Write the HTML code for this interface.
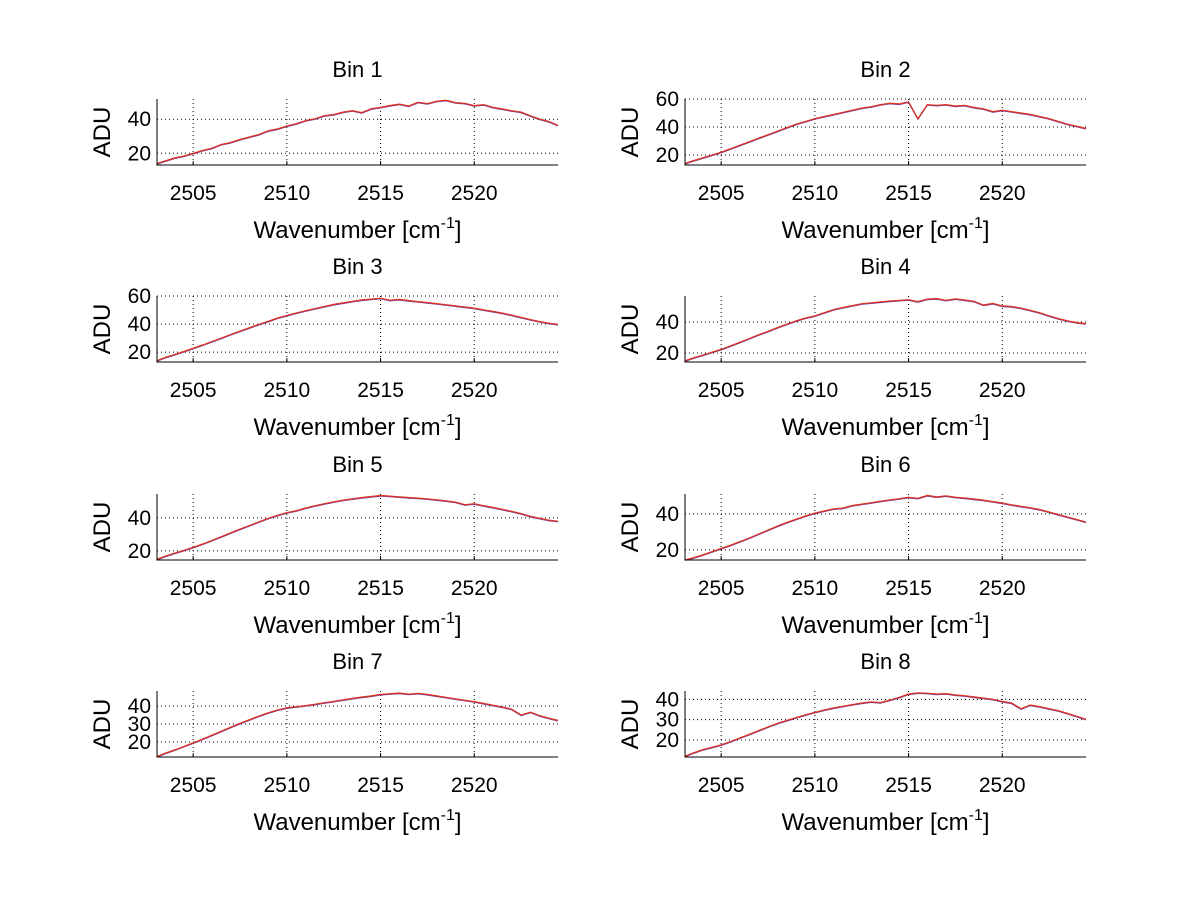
<!DOCTYPE html>
<html><head><meta charset="utf-8"><style>
body{margin:0;background:#fff;}
svg text{font-family:"Liberation Sans",sans-serif;fill:#000;}
</style></head><body>
<svg id="fig" width="1200" height="901" viewBox="0 0 1200 901" xmlns="http://www.w3.org/2000/svg"></svg>
<script>
const X0 = 2503.0, DX = 0.5;
const xlim = [2503.07, 2524.47];
const xTicks = [2505, 2510, 2515, 2520];
const binTitles = ["Bin 1","Bin 2","Bin 3","Bin 4","Bin 5","Bin 6","Bin 7","Bin 8"];
const ylims = [[13.1,51.9],[12.9,60],[13,60],[14.2,56.8],[14.5,54.5],[14.4,51],[11.7,48.3],[11.6,44.1]];
const yTicks = [[20,40],[20,40,60],[20,40,60],[20,40],[20,40],[20,40],[20,30,40],[20,30,40]];
const bin1 = [14,15.5,17.2,18.4,20,21.6,23,25.2,26.4,28.1,29.6,31,33.2,34.3,36.1,37.4,39.2,40.3,42.1,42.8,44.2,45.1,43.9,46.2,47,48.1,48.9,47.8,50,49.2,50.6,51.2,49.8,49.4,48,48.6,47,46.1,45,44.2,42,40.1,38.6,36.4,34.8];
const bin2 = [14,16,18,20,22,24.5,27,29.5,32,34.5,37,39.5,42,44,46,47.5,49,50.5,52,53.5,54.5,56,57,56.5,58,46,56,55.5,56,55,55.5,54,53,51,52,51,50,49,47.5,46,44,42,40.5,39,38];
const bin3 = [14,16.2,18.3,20.5,22.8,25.1,27.6,30,32.6,35,37.4,39.8,42,44.3,46.2,48,49.5,51,52.6,54,55.1,56.2,57.2,57.8,58.4,57,57.6,56.8,56,55.4,54.6,53.8,53,52.2,51.4,50.2,49,47.8,46.4,44.8,43.2,41.8,40.6,39.8,39.5];
const bin4 = [15,16.8,18.6,20.5,22.4,24.6,27,29.4,31.8,34,36.4,38.6,40.8,42.6,44,46,48,49.4,50.6,51.8,52.4,53,53.6,54,54.4,53.2,54.8,55.2,54,55,54.2,53.4,51,52,50.4,50,49,47.6,46,44,42.2,40.8,39.6,39,38.8];
const bin5 = [15,16.8,18.6,20.4,22.2,24.2,26.4,28.6,31,33.2,35.4,37.6,39.8,41.6,43.2,44.4,46,47.4,48.6,49.8,50.8,51.6,52.4,53,53.6,53.2,52.8,52.4,52,51.6,51,50.4,49.6,48,48.6,47.4,46.4,45.2,44,42.6,41,39.8,38.6,38,37.6];
const bin6 = [14,15.6,17.2,19,20.8,22.6,24.6,26.6,28.8,31,33.2,35.2,37,38.8,40.4,41.6,42.8,43.2,44.6,45.4,46.2,47,47.8,48.4,49.2,48.6,50.2,49.4,50,49.2,48.8,48.2,47.6,46.8,46,45,44.2,43.4,42.4,41,39.6,38.2,36.8,35.4,34.6];
const bin7 = [12,13.8,15.6,17.6,19.6,21.6,23.8,26,28.2,30.4,32.4,34.4,36.2,37.8,39,39.6,40.2,41,41.8,42.6,43.4,44.2,45,45.6,46.4,46.8,47.2,46.6,47,46.4,45.6,44.8,44,43.2,42.4,41.4,40.4,39.4,38.2,35,36.6,34.6,33.2,32,31];
const bin8 = [12,13.6,15.2,16.4,17.6,19.2,21,22.8,24.6,26.4,28.2,29.6,31,32.4,33.6,34.8,35.8,36.6,37.4,38.2,38.8,38.4,39.6,41,42.6,43.2,43,42.6,42.8,42.2,41.8,41.2,40.6,40,39,38.2,35.4,37.2,36.4,35.4,34.4,33,31.6,30.2,28.6,27.6];
const series = [bin1,bin2,bin3,bin4,bin5,bin6,bin7,bin8];

const NS="http://www.w3.org/2000/svg";
const svg=document.getElementById('fig');
function mk(tag,attrs,parent){const e=document.createElementNS(NS,tag);for(const k in attrs)e.setAttribute(k,attrs[k]);(parent||svg).appendChild(e);return e;}

const colL=[157,558], colR=[685,1086];
const rowTop=[99,296,494,691], H=66;

series.forEach((vals,b)=>{
  const col=b%2===0?colL:colR, top=rowTop[Math.floor(b/2)], bot=top+H;
  const [ymin,ymax]=ylims[b];
  const g=mk('g',{});
  
  
  const sx=x=>col[0]+(x-xlim[0])/(xlim[1]-xlim[0])*(col[1]-col[0]);
  const sy=y=>bot-(y-ymin)/(ymax-ymin)*H;
  xTicks.forEach(t=>{
    const l=mk('line',{x1:sx(t),x2:sx(t),y1:top,y2:bot,stroke:'#000','stroke-width':1,'stroke-dasharray':'1,3'},g);
    
    
    mk('line',{x1:sx(t),x2:sx(t),y1:bot,y2:bot-4,stroke:'#000'},g);
    const tx=mk('text',{x:sx(t),y:bot+35,'font-size':21,'text-anchor':'middle'},g);
    tx.textContent=t;
    
    
  });
  yTicks[b].forEach(t=>{
    const l=mk('line',{x1:col[0],x2:col[1],y1:sy(t),y2:sy(t),stroke:'#000','stroke-width':1,'stroke-dasharray':'1,3'},g);
    
    
    const tx=mk('text',{x:col[0]-6,y:sy(t)+7,'font-size':21,'text-anchor':'end'},g);
    tx.textContent=t;
    
    
  });
  let d='';
  vals.forEach((v,i)=>{const x=X0+i*DX;if(x<xlim[0]-DX||x>xlim[1]+DX)return;d+=(d?'L':'M')+sx(Math.min(Math.max(x,xlim[0]),xlim[1])).toFixed(1)+','+sy(Math.min(Math.max(v,ymin),ymax)).toFixed(1);});
  const cp=mk('clipPath',{id:'c'+b},g);mk('rect',{x:col[0],y:top,width:col[1]-col[0],height:H},cp);
  const p2=mk('path',{d:d,fill:'none',stroke:'#7a3fa0','stroke-width':1.2,'clip-path':'url(#c'+b+')',transform:'translate(0,0.6)'},g);
  
  
  const p=mk('path',{d:d,fill:'none',stroke:'#e0301a','stroke-width':1.2,'clip-path':'url(#c'+b+')'},g);
  
  
  const ax=mk('path',{d:`M${col[0]},${top}V${bot}H${col[1]}`,fill:'none',stroke:'#000','stroke-width':1},g);
  
  
  const ti=mk('text',{x:(col[0]+col[1])/2,y:top-22,'font-size':22,'text-anchor':'middle'},g);
  ti.textContent=binTitles[b];
  
  
  const xl=mk('text',{x:(col[0]+col[1])/2,y:bot+73,'font-size':24,'text-anchor':'middle'},g);
  xl.innerHTML='Wavenumber [cm<tspan dy="-10" font-size="16">-1</tspan><tspan dy="10">]</tspan>';
  
  
  const yl=mk('text',{x:0,y:0,'font-size':24,'text-anchor':'middle',transform:`translate(${col[0]-47},${top+H/2}) rotate(-90)`},g);
  yl.textContent='ADU';
  
  
});
</script>
</body></html>
